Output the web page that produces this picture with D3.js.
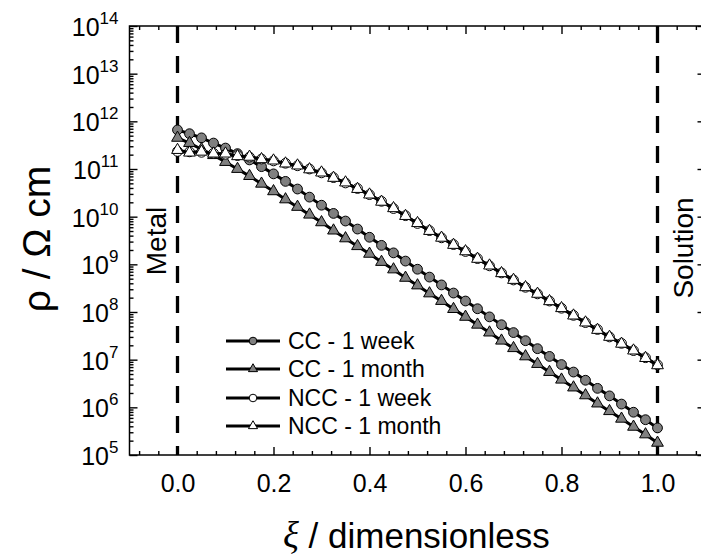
<!DOCTYPE html>
<html>
<head>
<meta charset="utf-8">
<script src="https://cdn.jsdelivr.net/npm/d3@7"></script>
<style>
  body { margin: 0; background: #fff; }
  text { font-family: "Liberation Sans", Arial, sans-serif; fill: #000; }
</style>
</head>
<body>
<div id="holder"></div>
<script>
// dimensionless position through the film
const xi = [0, 0.025, 0.05, 0.075, 0.1, 0.125, 0.15, 0.175, 0.2, 0.225,
    0.25, 0.275, 0.3, 0.325, 0.35, 0.375, 0.4, 0.425, 0.45, 0.475,
    0.5, 0.525, 0.55, 0.575, 0.6, 0.625, 0.65, 0.675, 0.7, 0.725,
    0.75, 0.775, 0.8, 0.825, 0.85, 0.875, 0.9, 0.925, 0.95, 0.975, 1.0];

// resistivity, ohm cm
const rhoCCWeek = [6.6e11, 5.5e11, 4.5e11, 3.5e11, 2.75e11, 2.1e11, 1.55e11, 1.12e11, 7.9e10, 5.5e10,
    3.8e10, 2.57e10, 1.74e10, 1.17e10, 8.1e9, 5.5e9, 3.7e9, 2.5e9, 1.74e9, 1.17e9,
    7.9e8, 5.4e8, 3.7e8, 2.5e8, 1.7e8, 1.17e8, 7.9e7, 5.4e7, 3.7e7, 2.5e7,
    1.7e7, 1.17e7, 7.9e6, 5.5e6, 3.7e6, 2.5e6, 1.74e6, 1.17e6, 7.9e5, 5.5e5, 3.7e5];
const rhoCCMonth = [4.5e11, 3.5e11, 2.6e11, 1.95e11, 1.4e11, 1.0e11, 7.1e10, 4.9e10, 3.4e10, 2.3e10,
    1.6e10, 1.1e10, 7.6e9, 5.1e9, 3.5e9, 2.4e9, 1.66e9, 1.12e9, 7.8e8, 5.2e8,
    3.6e8, 2.45e8, 1.7e8, 1.15e8, 7.9e7, 5.4e7, 3.7e7, 2.5e7, 1.74e7, 1.17e7,
    8.1e6, 5.5e6, 3.8e6, 2.6e6, 1.78e6, 1.2e6, 8.3e5, 5.75e5, 3.9e5, 2.7e5, 1.8e5];
const rhoNCCWeek = [2.34e11, 2.29e11, 2.24e11, 2.14e11, 2.04e11, 1.91e11, 1.78e11, 1.62e11, 1.48e11, 1.32e11,
    1.17e11, 1.0e11, 8.3e10, 6.6e10, 5.1e10, 3.9e10, 2.9e10, 2.1e10, 1.48e10, 1.05e10,
    7.2e9, 5.1e9, 3.6e9, 2.6e9, 1.86e9, 1.32e9, 9.3e8, 6.6e8, 4.7e8, 3.3e8,
    2.4e8, 1.7e8, 1.2e8, 8.5e7, 6.0e7, 4.3e7, 3.0e7, 2.2e7, 1.55e7, 1.1e7, 7.8e6];
const rhoNCCMonth = [2.5e11, 2.2e11, 2.3e11, 2.1e11, 2.1e11, 1.85e11, 1.8e11, 1.6e11, 1.5e11, 1.3e11,
    1.18e11, 9.8e10, 8.4e10, 6.5e10, 5.2e10, 3.8e10, 2.9e10, 2.05e10, 1.5e10, 1.03e10,
    7.3e9, 5.0e9, 3.6e9, 2.55e9, 1.87e9, 1.3e9, 9.4e8, 6.5e8, 4.7e8, 3.3e8,
    2.4e8, 1.68e8, 1.2e8, 8.4e7, 6.0e7, 4.2e7, 3.0e7, 2.15e7, 1.55e7, 1.08e7, 7.6e6];

const seriesNames = ["CC - 1 week", "CC - 1 month", "NCC - 1 week", "NCC - 1 month"];
const xTickValues = [0, 0.2, 0.4, 0.6, 0.8, 1.0];
const yDecades = [1e5, 1e6, 1e7, 1e8, 1e9, 1e10, 1e11, 1e12, 1e13, 1e14];

const width = 701;
const height = 556;
const plotLeft = 129.5, plotRight = 705.5, plotTop = 26, plotBottom = 455;

const xScale = d3.scaleLinear().domain([-0.1, 1.1]).range([plotLeft, plotRight]);
const yScale = d3.scaleLog().domain([1e5, 1e14]).range([plotBottom, plotTop]);

const svg = d3.select("#holder")
    .append("svg")
    .attr("width", width)
    .attr("height", height);

svg.append("rect")
    .attr("width", width)
    .attr("height", height)
    .attr("fill", "white");

// minor tick positions
const xMinor = d3.range(-2, 28).filter(k => k % 5 !== 0).map(k => k * 0.04);
const yMinor = [];
yDecades.slice(0, -1).forEach(d => {
    for (let m = 2; m <= 9; m++) yMinor.push(d * m);
});

function addAxis(axis, transform) {
    const g = svg.append("g")
        .attr("transform", transform)
        .call(axis);
    g.select(".domain").remove();
    g.selectAll("line").attr("stroke", "black").attr("stroke-width", 1.4);
    return g;
}

const noLabel = () => "";

// bottom
const xAxisG = addAxis(d3.axisBottom(xScale).tickValues(xTickValues).tickSize(-8).tickPadding(19)
    .tickFormat(d3.format(".1f")), `translate(0, ${plotBottom})`);
xAxisG.selectAll("text").style("font-size", "25px");
addAxis(d3.axisBottom(xScale).tickValues(xMinor).tickSize(-4).tickFormat(noLabel), `translate(0, ${plotBottom})`);
// top
addAxis(d3.axisTop(xScale).tickValues(xTickValues).tickSize(-8).tickFormat(noLabel), `translate(0, ${plotTop})`);
addAxis(d3.axisTop(xScale).tickValues(xMinor).tickSize(-4).tickFormat(noLabel), `translate(0, ${plotTop})`);
// left
addAxis(d3.axisLeft(yScale).tickValues(yDecades).tickSize(-8).tickFormat(noLabel), `translate(${plotLeft}, 0)`);
addAxis(d3.axisLeft(yScale).tickValues(yMinor).tickSize(-4).tickFormat(noLabel), `translate(${plotLeft}, 0)`);
// right
addAxis(d3.axisRight(yScale).tickValues(yDecades).tickSize(-8).tickFormat(noLabel), `translate(${plotRight}, 0)`);
addAxis(d3.axisRight(yScale).tickValues(yMinor).tickSize(-4).tickFormat(noLabel), `translate(${plotRight}, 0)`);

// y tick labels as 10^n
svg.append("g")
    .selectAll("text")
    .data(yDecades)
    .enter()
    .append("text")
    .attr("x", plotLeft - 11)
    .attr("y", d => yScale(d) + 10)
    .attr("text-anchor", "end")
    .style("font-size", "25px")
    .each(function (d) {
        const t = d3.select(this);
        t.append("tspan").text("10");
        t.append("tspan")
            .attr("dy", -12)
            .style("font-size", "17px")
            .text(Math.round(Math.log10(d)));
    });

// frame
svg.append("rect")
    .attr("x", plotLeft)
    .attr("y", plotTop)
    .attr("width", plotRight - plotLeft)
    .attr("height", plotBottom - plotTop)
    .attr("fill", "none")
    .attr("stroke", "black")
    .attr("stroke-width", 1.5);

// metal / solution boundaries
svg.selectAll(".boundary")
    .data([0, 1])
    .enter()
    .append("line")
    .attr("x1", d => xScale(d))
    .attr("x2", d => xScale(d))
    .attr("y1", plotTop)
    .attr("y2", plotBottom)
    .attr("stroke", "black")
    .attr("stroke-width", 3.3)
    .attr("stroke-dasharray", "17,13");

svg.append("text")
    .attr("transform", "translate(166, 241) rotate(-90)")
    .attr("text-anchor", "middle")
    .style("font-size", "28px")
    .text("Metal");

svg.append("text")
    .attr("transform", "translate(693, 248) rotate(-90)")
    .attr("text-anchor", "middle")
    .style("font-size", "28px")
    .text("Solution");

// series
const series = [
    { name: seriesNames[0], values: rhoCCWeek, shape: "circle", fill: "#808080" },
    { name: seriesNames[1], values: rhoCCMonth, shape: "triangle", fill: "#808080" },
    { name: seriesNames[2], values: rhoNCCWeek, shape: "circle", fill: "white" },
    { name: seriesNames[3], values: rhoNCCMonth, shape: "triangle", fill: "white" }
];

const line = d3.line()
    .x((d, i) => xScale(xi[i]))
    .y(d => yScale(d));

function drawMarker(g, shape, fill, cx, cy, small) {
    if (shape === "circle") {
        g.append("circle")
            .attr("cx", cx)
            .attr("cy", cy)
            .attr("r", small ? 3.8 : 4.9)
            .attr("fill", fill)
            .attr("stroke", "black")
            .attr("stroke-width", 1);
    } else {
        g.append("path")
            .attr("d", d3.symbol(d3.symbolTriangle, small ? 36 : 60)())
            .attr("transform", `translate(${cx}, ${cy})`)
            .attr("fill", fill)
            .attr("stroke", "black")
            .attr("stroke-width", 1);
    }
}

series.forEach(s => {
    const g = svg.append("g");
    g.append("path")
        .datum(s.values)
        .attr("d", line)
        .attr("fill", "none")
        .attr("stroke", "black")
        .attr("stroke-width", 3);
    s.values.forEach((v, i) => {
        drawMarker(g, s.shape, s.fill, xScale(xi[i]), yScale(v), false);
    });
});

// legend
const legendY = [341, 369, 398, 426];
series.forEach((s, i) => {
    const g = svg.append("g");
    g.append("line")
        .attr("x1", 226)
        .attr("x2", 280)
        .attr("y1", legendY[i])
        .attr("y2", legendY[i])
        .attr("stroke", "black")
        .attr("stroke-width", 3);
    drawMarker(g, s.shape, s.fill, 253, legendY[i], true);
    g.append("text")
        .attr("x", 288)
        .attr("y", legendY[i])
        .attr("dy", "0.36em")
        .style("font-size", "23px")
        .text(s.name);
});

// axis titles
svg.append("text")
    .attr("transform", "translate(50, 239) rotate(-90)")
    .attr("text-anchor", "middle")
    .style("font-size", "39px")
    .text("ρ / Ω cm");

const xTitle = svg.append("text")
    .attr("x", 283)
    .attr("y", 548)
    .attr("text-anchor", "start")
    .style("font-size", "35px");
xTitle.append("tspan")
    .style("font-family", "'Liberation Serif', 'Times New Roman', serif")
    .style("font-style", "italic")
    .style("font-size", "37px")
    .text("ξ");
xTitle.append("tspan").text(" / dimensionless");
</script>
</body>
</html>
